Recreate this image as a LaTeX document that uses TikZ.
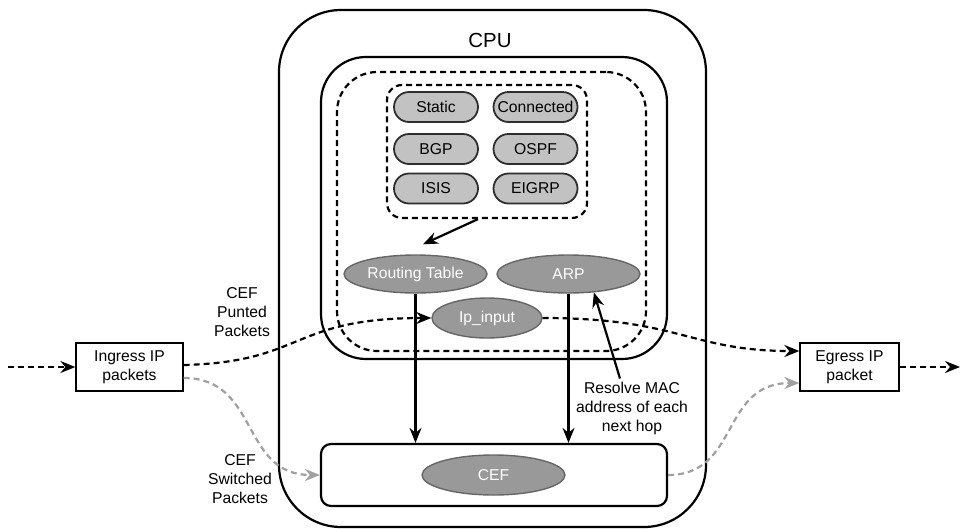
\documentclass[tikz,border=0pt]{standalone}
\usepackage{fontspec}
\setmainfont{Liberation Sans}
\usetikzlibrary{arrows.meta,shapes.geometric,calc}
\definecolor{pillfill}{HTML}{C2C2C2}
\definecolor{pillline}{HTML}{2E2E2E}
\definecolor{ellfill}{HTML}{999999}
\definecolor{ellline}{HTML}{666666}
\definecolor{graydash}{HTML}{A0A0A0}
\begin{document}
\begin{tikzpicture}[x=1pt,y=1pt,
  every node/.style={font=\fontsize{15.7}{19}\selectfont, align=center, inner sep=0pt},
  container/.style={draw, line width=2.2pt, minimum width=#1},
  dbox/.style={draw, dashed, line width=2.2pt, dash pattern=on 6pt off 4pt},
  pill/.style={draw=pillline, fill=pillfill, line width=1.8pt, rounded corners=15pt, minimum width=84pt, minimum height=30pt},
  ell/.style={ellipse, draw=ellline, fill=ellfill, line width=1.4pt, text=white},
  pbox/.style={draw, line width=1.3pt, minimum height=48pt},
  tip/.style={-{Stealth[length=15pt,width=12pt,inset=5pt]}},
  arr/.style={tip, line width=2.2pt},
  blkflow/.style={tip, line width=2.2pt, dash pattern=on 6pt off 4pt},
  grayflow/.style={draw=graydash, line width=2.2pt, dash pattern=on 6pt off 4pt, -{Stealth[length=15pt,width=12pt,inset=5pt,graydash]}}
]
\useasboundingbox (0,0) rectangle (961,-528);

% containers
\node[container=427pt, minimum height=517pt, rounded corners=62pt] (cpu) at (492.5,-268.5) {};
\node[font=\fontsize{20.4}{24}\selectfont] (cpulabel) at (490,-40) {CPU};
\node[container=346pt, minimum height=302pt, rounded corners=45pt] (ctrl) at (494,-208) {};
\node[dbox, minimum width=309pt, minimum height=279pt, rounded corners=40pt] (rib) at (491.5,-211.5) {};
\node[dbox, minimum width=200pt, minimum height=133pt, rounded corners=15pt] (protos) at (487,-151.5) {};

% protocols
\node[pill] (static) at (436,-107) {Static};
\node[pill] (connected) at (535.5,-107) {Connected};
\node[pill] (bgp) at (436,-149) {BGP};
\node[pill] (ospf) at (535.5,-149) {OSPF};
\node[pill] (isis) at (436,-188.5) {ISIS};
\node[pill] (eigrp) at (535.5,-188.5) {EIGRP};

% ellipses
\node[ell, minimum width=143pt, minimum height=38pt] (rt) at (415.5,-274) {Routing Table};
\node[ell, minimum width=143pt, minimum height=38pt] (arp) at (568.5,-274) {ARP};
\node[ell, minimum width=110pt, minimum height=40pt] (ipin) at (487,-318) {Ip\_input};

% CEF
\node[container=346pt, minimum height=62pt, rounded corners=10pt] (cefbox) at (494,-475) {};
\node[ell, minimum width=143pt, minimum height=40pt] (cef) at (493.5,-475) {CEF};

% packets
\node[pbox, minimum width=107pt] (ingress) at (129.5,-367) {Ingress IP\\packets};
\node[pbox, minimum width=99pt] (egress) at (849.5,-367) {Egress IP\\packet};
\coordinate (src) at (8,-367);
\coordinate (dst) at (960,-367);

% labels
\node (punted) at (242,-312) {CEF\\Punted\\Packets};
\node (switched) at (240,-479) {CEF\\Switched\\Packets};
\node (resolve) at (632,-408) {Resolve MAC\\address of each\\next hop};

% solid arrows
\draw[arr] ([xshift=-9pt]protos.south) -- ([shift={(7.5pt,10pt)}]rt.north);
\draw[arr] (rt.south) -- (rt.south |- cefbox.north);
\draw[arr] (arp.south) -- (arp.south |- cefbox.north);
\draw[arr] ([shift={(-12pt,3pt)}]resolve.north) -- (arp.-36);

% flows
\draw[blkflow] (src) -- (ingress.west);
\draw[blkflow] (egress.east) -- (dst);
\draw[blkflow] ([yshift=2pt]ingress.east) .. controls (305,-362) and (290,-318) .. (ipin.west);
\draw[blkflow] (ipin.east) .. controls (680,-318) and (690,-351) .. ([yshift=16pt]egress.west);
\draw[grayflow] ([yshift=-11pt]ingress.east) .. controls (260,-378) and (240,-475) .. (cefbox.west);
\draw[grayflow] (cefbox.east) .. controls (740,-475) and (720,-383) .. ([yshift=-16pt]egress.west);
\end{tikzpicture}
\end{document}
